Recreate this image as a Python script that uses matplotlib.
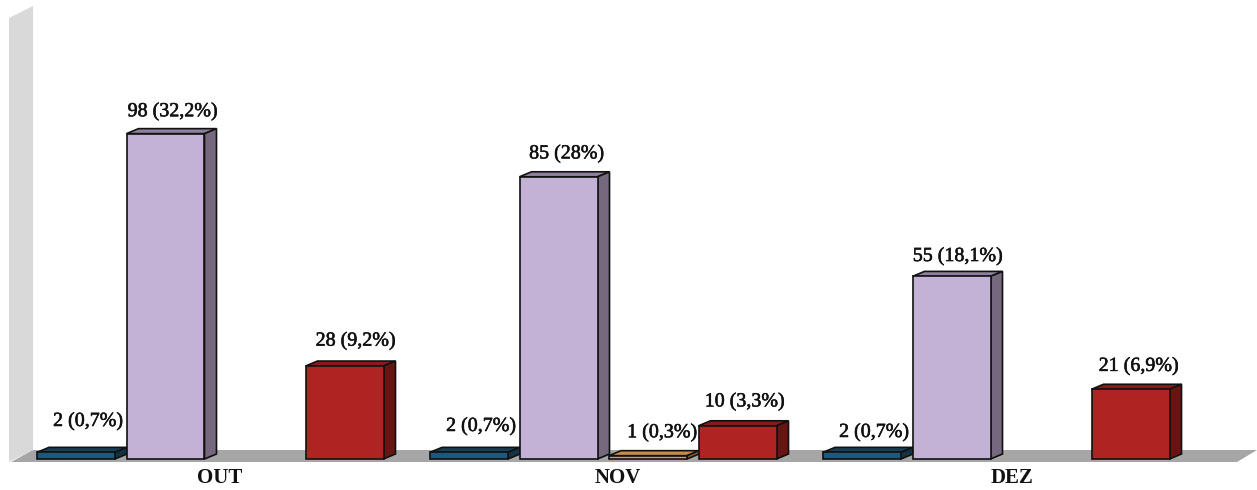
import matplotlib
matplotlib.use("Agg")
import matplotlib.pyplot as plt
import matplotlib.patheffects as pe
from matplotlib.patches import Polygon

# Dados
meses = ["OUT", "NOV", "DEZ"]
azul = [2, 2, 2]
lilas = [98, 85, 55]
laranja = [0, 1, 0]
vermelho = [28, 10, 21]

pct_azul = ["0,7%", "0,7%", "0,7%"]
pct_lilas = ["32,2%", "28%", "18,1%"]
pct_laranja = ["", "0,3%", ""]
pct_vermelho = ["9,2%", "3,3%", "6,9%"]

W, H = 1257, 490
BASE = 459
PX_Y = 3.32    # pixels por unidade
GRUPO = 393.0  # pixels entre grupos
X0 = 37
PASSO = 89.5
LARG = 78
DX, DY = 12, 5

series = [
    (azul, pct_azul, "#1f5878", "#163f57", "#123347"),
    (lilas, pct_lilas, "#c3b1d6", "#8f7f9e", "#75687f"),
    (laranja, pct_laranja, "#e39c55", "#c98b4a", "#8a5c2e"),
    (vermelho, pct_vermelho, "#b02323", "#8a1a1a", "#691313"),
]

# ajustes finos dos rotulos (dx, dy em pixels), por (serie, grupo)
ajuste = {
    (0, 0): (6, 5), (0, 1): (6, 0), (0, 2): (6, -6),
    (1, 0): (1, -4), (1, 1): (2, -3), (1, 2): (0, -6),
    (2, 1): (8, -3),
    (3, 0): (5, -1), (3, 1): (1, -2), (3, 2): (2, -3),
}
ajuste_mes = [0, 5, 6]


def px(x):
    return x / GRUPO


def py(y):
    return y / PX_Y


fig = plt.figure(figsize=(W / 100, H / 100), dpi=100)
ax = fig.add_axes([0, 0, 1, 1])
ax.set_xlim(0, W / GRUPO)
ax.set_ylim(-(H - BASE) / PX_Y, BASE / PX_Y)
ax.axis("off")

fonte = "Liberation Serif"
traco = [pe.withStroke(linewidth=0.4, foreground="#111111")]

# parede e chao
ax.add_patch(Polygon([(px(9), py(-3)), (px(33), py(9)), (px(33), py(453)), (px(9), py(441))],
                     closed=True, fc="#d9d9d9", ec="none", zorder=1))
ax.add_patch(Polygon([(px(11), py(-3)), (px(33), py(9)), (px(1257), py(9)), (px(1237), py(-3))],
                     closed=True, fc="#a6a6a6", ec="none", zorder=1))

z = 2
for g in range(len(meses)):
    for s, (vals, pcts, cor, cor_topo, cor_lado) in enumerate(series):
        v = vals[g]
        if v == 0:
            continue
        x = X0 + g * GRUPO + s * PASSO
        x1 = x + LARG
        h = v * PX_Y
        topo = [(px(x), py(h)), (px(x + DX), py(h + DY)), (px(x1 + DX), py(h + DY)), (px(x1), py(h))]
        lado = [(px(x1), 0), (px(x1 + DX), py(DY)), (px(x1 + DX), py(h + DY)), (px(x1), py(h))]
        ax.add_patch(Polygon(topo, closed=True, fc=cor_topo, ec="#111111", lw=1.2, zorder=z))
        ax.add_patch(Polygon(lado, closed=True, fc=cor_lado, ec="#111111", lw=1.2, zorder=z))
        ax.bar(px(x), v, width=px(LARG), bottom=0, align="edge", color=cor,
               edgecolor="#111111", linewidth=1.2, zorder=z)
        z += 1
        dx, dy = ajuste.get((s, g), (0, 0))
        ax.text(px(x + (LARG + DX) / 2 + dx), py(h + DY + 21 + dy), f"{v} ({pcts[g]})",
                ha="center", va="center", family=fonte, fontsize=14.4,
                color="#111111", zorder=50, path_effects=traco)

for g, mes in enumerate(meses):
    cx = X0 + g * GRUPO + 183 + ajuste_mes[g]
    ax.text(px(cx), py(BASE - 478), mes, ha="center", va="center", family=fonte,
            fontsize=15, fontweight="bold", color="#111111", zorder=50)

fig.savefig("out.png", dpi=100, facecolor="white")
